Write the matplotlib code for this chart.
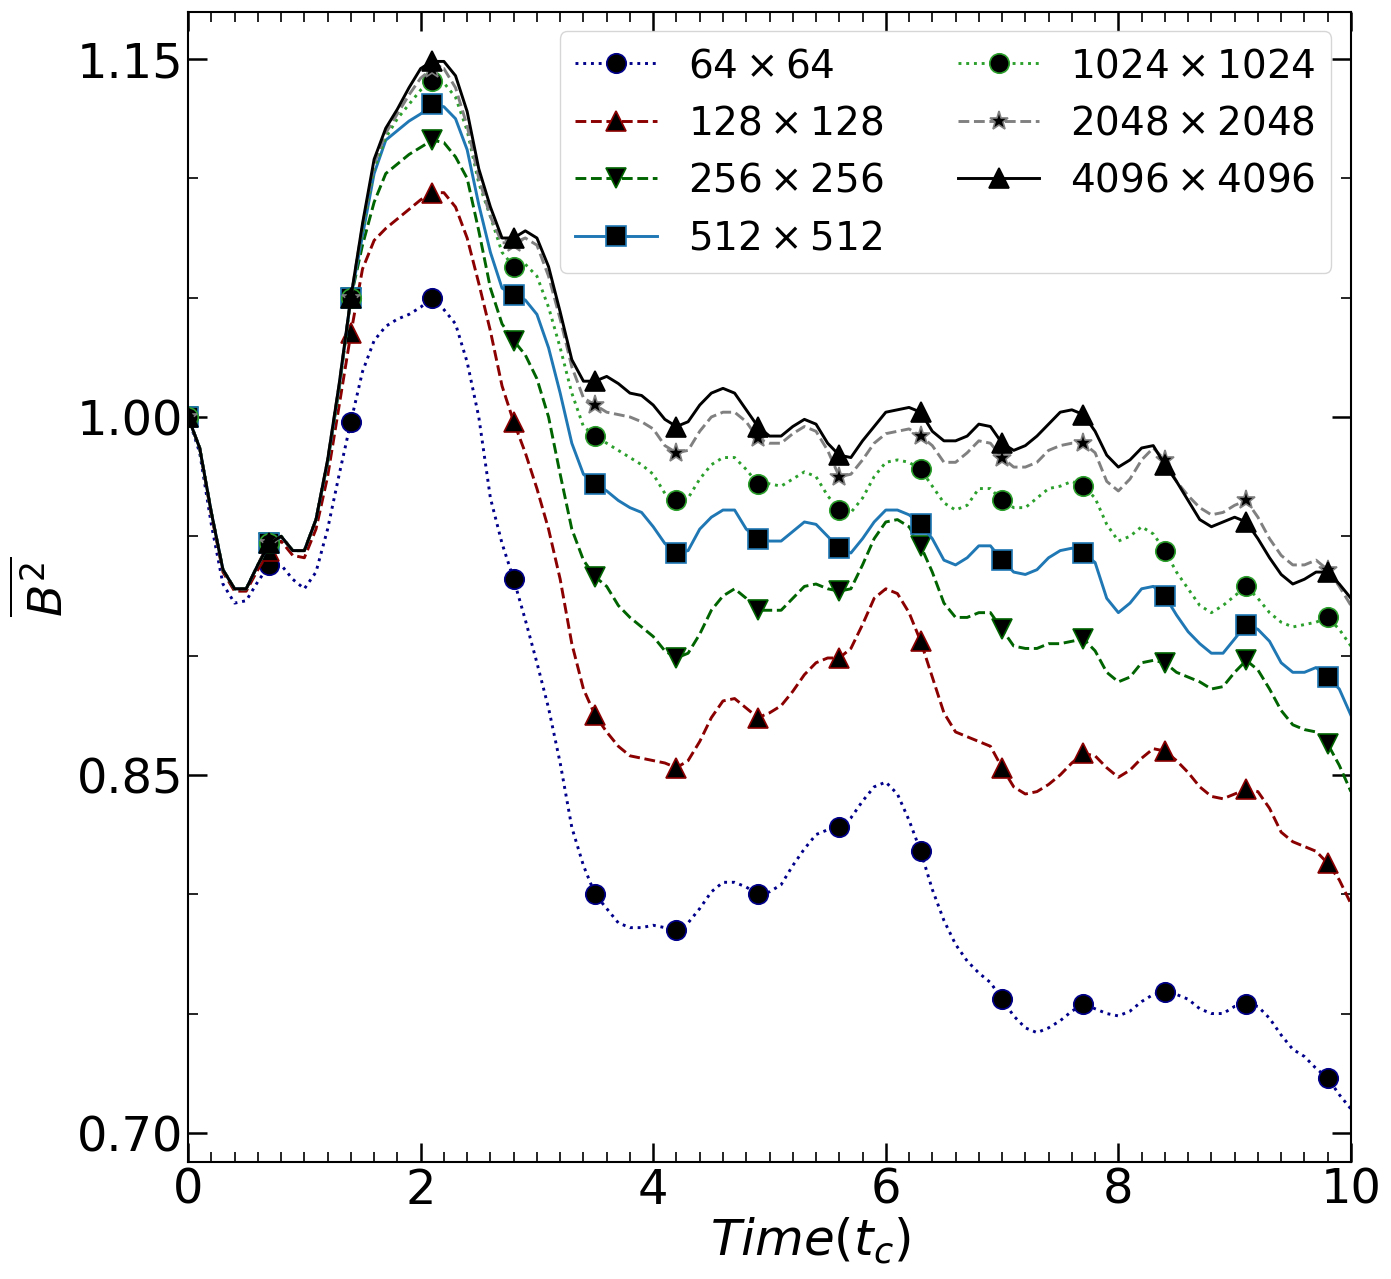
import numpy as np
import matplotlib.pyplot as plt

time = np.linspace(0, 10, 101)

b2_64 = [1.000, 0.985, 0.955, 0.930, 0.922, 0.923, 0.931, 0.938, 0.938, 0.932,
         0.928, 0.935, 0.953, 0.976, 0.998, 1.019, 1.032, 1.038, 1.041, 1.043,
         1.046, 1.050, 1.045, 1.039, 1.023, 1.000, 0.966, 0.947, 0.932, 0.915,
         0.897, 0.878, 0.855, 0.828, 0.812, 0.800, 0.794, 0.788, 0.786, 0.786,
         0.787, 0.786, 0.785, 0.788, 0.794, 0.801, 0.805, 0.805, 0.803, 0.800,
         0.801, 0.804, 0.812, 0.819, 0.825, 0.827, 0.828, 0.832, 0.839, 0.845,
         0.847, 0.842, 0.831, 0.818, 0.802, 0.789, 0.779, 0.772, 0.767, 0.763,
         0.756, 0.749, 0.744, 0.742, 0.744, 0.747, 0.751, 0.754, 0.752, 0.750,
         0.749, 0.751, 0.755, 0.758, 0.759, 0.758, 0.756, 0.752, 0.750, 0.750,
         0.753, 0.754, 0.753, 0.748, 0.741, 0.735, 0.732, 0.727, 0.723, 0.716,
         0.710]

b2_128 = [1.000, 0.987, 0.959, 0.935, 0.927, 0.927, 0.936, 0.944, 0.948, 0.942,
          0.941, 0.953, 0.975, 1.005, 1.035, 1.062, 1.074, 1.079, 1.083, 1.087,
          1.091, 1.094, 1.094, 1.088, 1.075, 1.056, 1.036, 1.013, 0.998, 0.985,
          0.970, 0.953, 0.932, 0.905, 0.886, 0.875, 0.868, 0.862, 0.858, 0.857,
          0.856, 0.855, 0.853, 0.856, 0.864, 0.874, 0.881, 0.882, 0.878, 0.874,
          0.876, 0.879, 0.885, 0.892, 0.897, 0.899, 0.899, 0.903, 0.913, 0.924,
          0.928, 0.926, 0.918, 0.906, 0.891, 0.876, 0.868, 0.866, 0.864, 0.862,
          0.853, 0.845, 0.842, 0.843, 0.846, 0.850, 0.855, 0.859, 0.858, 0.853,
          0.849, 0.852, 0.857, 0.861, 0.860, 0.856, 0.851, 0.845, 0.841, 0.840,
          0.842, 0.844, 0.843, 0.836, 0.826, 0.822, 0.820, 0.818, 0.813, 0.806,
          0.796]

b2_256 = [1.000, 0.987, 0.960, 0.936, 0.928, 0.928, 0.938, 0.947, 0.950, 0.944,
          0.944, 0.957, 0.981, 1.012, 1.050, 1.072, 1.090, 1.102, 1.106, 1.110,
          1.113, 1.116, 1.115, 1.109, 1.100, 1.078, 1.054, 1.039, 1.032, 1.026,
          1.016, 1.000, 0.976, 0.953, 0.940, 0.933, 0.929, 0.921, 0.916, 0.912,
          0.908, 0.902, 0.899, 0.901, 0.909, 0.919, 0.925, 0.928, 0.924, 0.919,
          0.919, 0.919, 0.924, 0.929, 0.930, 0.928, 0.927, 0.928, 0.938, 0.949,
          0.956, 0.957, 0.954, 0.946, 0.935, 0.922, 0.916, 0.916, 0.918, 0.918,
          0.911, 0.904, 0.903, 0.903, 0.905, 0.905, 0.906, 0.907, 0.902, 0.893,
          0.889, 0.891, 0.897, 0.898, 0.897, 0.893, 0.891, 0.889, 0.886, 0.887,
          0.893, 0.898, 0.894, 0.886, 0.877, 0.871, 0.869, 0.868, 0.863, 0.854,
          0.843]

b2_512 = [1.000, 0.987, 0.960, 0.936, 0.928, 0.928, 0.938, 0.947, 0.950, 0.944,
          0.944, 0.957, 0.981, 1.013, 1.050, 1.076, 1.102, 1.116, 1.120, 1.124,
          1.127, 1.131, 1.130, 1.125, 1.112, 1.089, 1.069, 1.054, 1.051, 1.049,
          1.043, 1.029, 1.010, 0.989, 0.976, 0.972, 0.969, 0.965, 0.962, 0.960,
          0.954, 0.947, 0.943, 0.944, 0.953, 0.958, 0.961, 0.961, 0.953, 0.949,
          0.948, 0.948, 0.952, 0.956, 0.955, 0.950, 0.945, 0.943, 0.949, 0.956,
          0.961, 0.961, 0.959, 0.955, 0.949, 0.940, 0.938, 0.941, 0.946, 0.946,
          0.940, 0.935, 0.934, 0.936, 0.941, 0.944, 0.945, 0.943, 0.939, 0.924,
          0.918, 0.922, 0.928, 0.929, 0.925, 0.917, 0.910, 0.905, 0.901, 0.901,
          0.907, 0.913, 0.911, 0.906, 0.897, 0.893, 0.893, 0.895, 0.891, 0.886,
          0.875]

b2_1024 = [1.000, 0.987, 0.960, 0.936, 0.928, 0.928, 0.938, 0.947, 0.950, 0.944,
           0.944, 0.957, 0.981, 1.013, 1.050, 1.078, 1.104, 1.117, 1.125, 1.131,
           1.137, 1.141, 1.140, 1.134, 1.120, 1.098, 1.084, 1.069, 1.063, 1.064,
           1.059, 1.046, 1.029, 1.010, 0.996, 0.992, 0.989, 0.986, 0.983, 0.980,
           0.976, 0.968, 0.965, 0.966, 0.974, 0.980, 0.983, 0.983, 0.978, 0.972,
           0.972, 0.971, 0.974, 0.977, 0.975, 0.967, 0.961, 0.960, 0.966, 0.975,
           0.981, 0.982, 0.981, 0.978, 0.971, 0.964, 0.961, 0.963, 0.970, 0.970,
           0.965, 0.962, 0.962, 0.966, 0.970, 0.971, 0.973, 0.971, 0.966, 0.955,
           0.948, 0.950, 0.954, 0.951, 0.944, 0.935, 0.928, 0.921, 0.918, 0.921,
           0.925, 0.929, 0.924, 0.918, 0.914, 0.912, 0.913, 0.914, 0.916, 0.911,
           0.904]

b2_2048 = [1.000, 0.987, 0.960, 0.936, 0.928, 0.928, 0.938, 0.947, 0.950, 0.944,
           0.944, 0.957, 0.982, 1.014, 1.050, 1.080, 1.106, 1.119, 1.127, 1.135,
           1.142, 1.146, 1.146, 1.138, 1.122, 1.100, 1.084, 1.073, 1.073, 1.075,
           1.072, 1.059, 1.041, 1.021, 1.008, 1.005, 1.002, 1.001, 1.000, 0.998,
           0.995, 0.988, 0.985, 0.986, 0.994, 1.000, 1.002, 1.002, 0.998, 0.991,
           0.989, 0.989, 0.993, 0.996, 0.994, 0.986, 0.975, 0.976, 0.982, 0.989,
           0.993, 0.994, 0.995, 0.992, 0.988, 0.981, 0.981, 0.985, 0.990, 0.989,
           0.983, 0.979, 0.979, 0.981, 0.986, 0.988, 0.989, 0.989, 0.985, 0.973,
           0.969, 0.974, 0.982, 0.987, 0.982, 0.973, 0.967, 0.962, 0.959, 0.960,
           0.963, 0.965, 0.958, 0.949, 0.942, 0.938, 0.938, 0.940, 0.936, 0.929,
           0.921]

b2_4096 = [1.000, 0.987, 0.960, 0.936, 0.928, 0.928, 0.938, 0.947, 0.950, 0.944,
           0.944, 0.957, 0.982, 1.014, 1.050, 1.081, 1.108, 1.121, 1.129, 1.138,
           1.146, 1.149, 1.149, 1.143, 1.128, 1.104, 1.088, 1.075, 1.075, 1.078,
           1.075, 1.063, 1.044, 1.024, 1.015, 1.015, 1.017, 1.014, 1.010, 1.009,
           1.005, 0.999, 0.996, 0.998, 1.005, 1.010, 1.012, 1.010, 1.003, 0.996,
           0.992, 0.992, 0.996, 0.999, 0.997, 0.989, 0.984, 0.983, 0.990, 0.996,
           1.002, 1.003, 1.004, 1.002, 0.994, 0.990, 0.990, 0.992, 0.997, 0.996,
           0.989, 0.986, 0.988, 0.992, 0.997, 1.002, 1.003, 1.001, 0.994, 0.984,
           0.979, 0.982, 0.987, 0.988, 0.980, 0.973, 0.965, 0.957, 0.954, 0.956,
           0.958, 0.956, 0.949, 0.941, 0.934, 0.930, 0.932, 0.935, 0.935, 0.930,
           0.924]

labels = [r'$64 \times 64$', r'$128 \times 128$', r'$256 \times 256$', r'$512 \times 512$',
          r'$1024 \times 1024$', r'$2048 \times 2048$', r'$4096 \times 4096$']

series = [b2_64, b2_128, b2_256, b2_512, b2_1024, b2_2048, b2_4096]
colors = ['#00008b', '#8b0000', '#006400', '#1f77b4', '#2ca02c', 'gray', 'black']
styles = [':', '--', '--', '-', ':', '--', '-']
markers = ['o', '^', 'v', 's', 'o', '*', '^']

fig = plt.figure(figsize=(13.91, 12.79), dpi=100)
ax = fig.add_axes([0.1352, 0.0915, 0.836, 0.8991])

for vals, lab, c, ls, m in zip(series, labels, colors, styles, markers):
    ax.plot(time, vals, linestyle=ls, color=c, lw=2.1, marker=m, markevery=7,
            markersize=14, markerfacecolor='black', markeredgecolor=c,
            markeredgewidth=1.2, label=lab)

ax.set_xlim(0, 10)
ax.set_ylim(0.6878, 1.1697)
ax.set_xticks([0, 2, 4, 6, 8, 10])
ax.set_xticks(np.arange(0, 10.01, 0.2), minor=True)
ax.set_yticks([0.70, 0.85, 1.00, 1.15])
ax.set_yticks(np.arange(0.70, 1.16, 0.05), minor=True)
ax.tick_params(which='both', direction='in', top=True, right=True, labelsize=34.5)
ax.tick_params(which='major', length=14, width=1.8)
ax.tick_params(which='minor', length=7, width=1.2)
for sp in ax.spines.values():
    sp.set_linewidth(1.5)

ax.set_xlabel(r'$Time(t_c)$', fontsize=36)
ax.xaxis.set_label_coords(0.535, -0.047)
ax.set_ylabel(r'$\overline{B^2}$', fontsize=34, labelpad=2)

ax.legend(ncol=2, loc='upper right', fontsize=28, handlelength=2.1,
          columnspacing=1.9, labelspacing=0.5)

fig.savefig('out.png', dpi=100)
